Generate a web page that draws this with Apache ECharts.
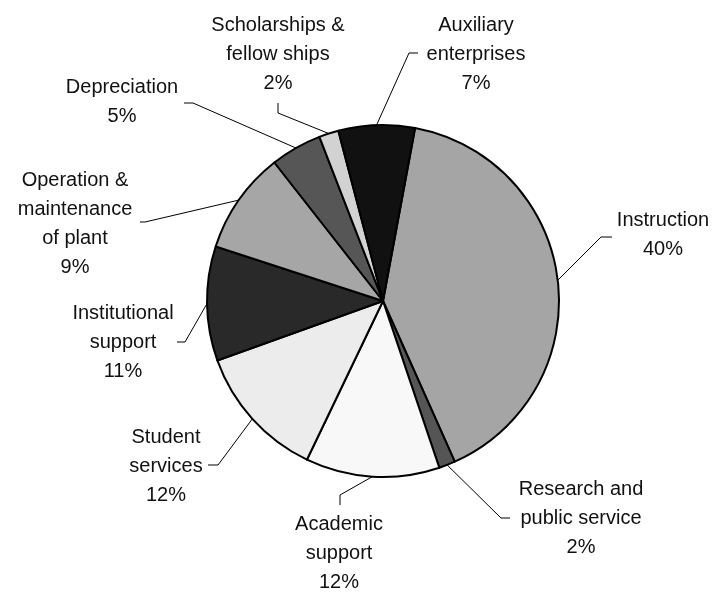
<!DOCTYPE html>
<html>
<head>
<meta charset="utf-8">
<script src="https://cdn.jsdelivr.net/npm/echarts@6/dist/echarts.min.js"></script>
<style>
html,body{margin:0;padding:0;background:#fff;}
#chart{width:712px;height:593px;}
</style>
</head>
<body>
<div id="chart"></div>
<script>
// Data (percent of total expenses), clockwise from Instruction
var categories = [
  'Instruction',
  'Research and\npublic service',
  'Academic\nsupport',
  'Student\nservices',
  'Institutional\nsupport',
  'Operation &\nmaintenance\nof plant',
  'Depreciation',
  'Scholarships &\nfellow ships',
  'Auxiliary\nenterprises'
];
var values = [40.4, 1.5, 12.3, 12.4, 10.5, 9.4, 4.7, 1.8, 7.0];

// Styles / layout (kept apart from data)
var colors = ['#a5a5a5', '#555555', '#f8f8f8', '#ececec', '#292929', '#a6a6a6', '#565656', '#d2d2d2', '#111111'];
// label block centres
var labelPos = [[663, 235], [581, 518], [339, 553], [166, 466], [123, 342], [75, 224], [122, 102], [278, 54], [476, 54]];
// leader-line elbow and end points
var leaderPts = [
  [[601, 237], [612, 237]],
  [[501, 518], [510, 518]],
  [[340, 495], [340, 505]],
  [[218, 465], [208, 465]],
  [[185, 342], [177, 342]],
  [[145, 222], [140, 222]],
  [[193, 103], [184, 103]],
  [[278, 113], [278, 103]],
  [[409, 53], [418, 53]]
];

var chart = echarts.init(document.getElementById('chart'), null, {renderer: 'canvas'});
var data = categories.map(function (c, i) {
  return { name: c, value: values[i], itemStyle: { color: colors[i] } };
});

chart.setOption({
  backgroundColor: '#ffffff',
  animation: false,
  series: [{
    type: 'pie',
    center: [383, 301],
    radius: 176,
    startAngle: 79.5,
    clockwise: true,
    avoidLabelOverlap: false,
    data: data,
    itemStyle: { borderColor: '#000', borderWidth: 2 },
    emphasis: { disabled: true },
    label: {
      show: true,
      position: 'outside',
      fontFamily: '"Liberation Sans", Arial, sans-serif',
      fontSize: 20,
      lineHeight: 29,
      color: '#111',
      align: 'center',
      formatter: function (p) {
        return p.name + '\n' + Math.round(p.value) + '%';
      }
    },
    labelLine: {
      show: true,
      lineStyle: { color: '#000', width: 1 }
    },
    labelLayout: function (params) {
      var i = params.dataIndex;
      var start = params.labelLinePoints ? params.labelLinePoints[0] : null;
      var res = {
        x: labelPos[i][0],
        y: labelPos[i][1],
        align: 'center',
        verticalAlign: 'middle'
      };
      if (start) {
        res.labelLinePoints = [start, leaderPts[i][0], leaderPts[i][1]];
      }
      return res;
    }
  }]
});
</script>
</body>
</html>
